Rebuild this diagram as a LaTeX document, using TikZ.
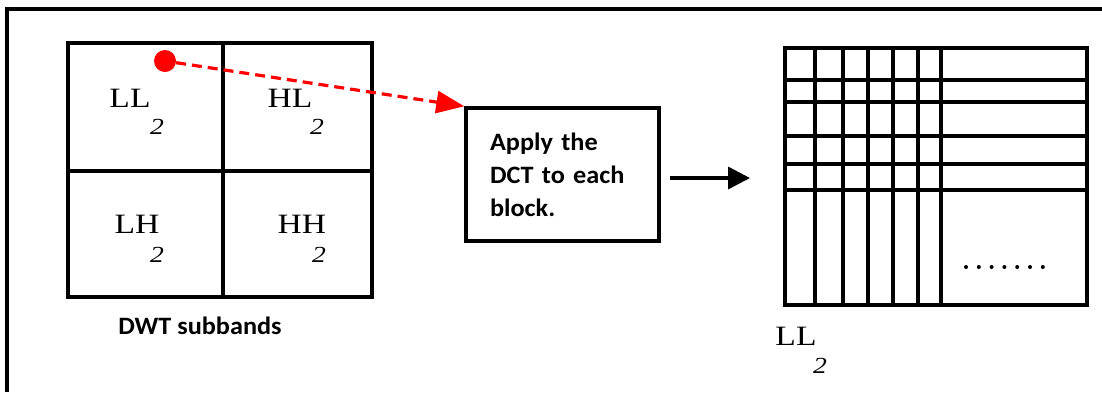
\documentclass[tikz,border=0pt]{standalone}
\usepackage{fontspec}
\newfontfamily\bandfont[FakeStretch=1.2]{Liberation Serif}
\newfontfamily\notefont[FakeStretch=1.05]{Carlito}
\usetikzlibrary{positioning,arrows.meta}
\definecolor{ink}{HTML}{000000}
\definecolor{pick}{HTML}{FF0000}

\tikzset{
  rule/.style={draw=ink,line width=3.4pt},
  cell/.style={rule,inner sep=0pt},
  band/.style={font=\bandfont\fontsize{28}{28}\selectfont,inner sep=0pt},
  sub/.style={font=\bandfont\itshape\fontsize{23}{23}\selectfont,inner sep=0pt},
  note/.style={font=\notefont\bfseries\fontsize{25}{33}\selectfont},
}

\begin{document}
\begin{tikzpicture}[x=1pt,y=-1pt]
\useasboundingbox (0,0) rectangle (1102,392);
\draw[line width=3.4pt] (1102,9) -- (7,9) -- (7,392);

% DWT subbands
\node[cell,minimum width=155pt,minimum height=128pt] (ll) at (145.5,107) {};
\node[cell,minimum width=149pt,minimum height=128pt] (hl) at (297.5,107) {};
\node[cell,minimum width=155pt,minimum height=126pt] (lh) at (145.5,234) {};
\node[cell,minimum width=149pt,minimum height=126pt] (hh) at (297.5,234) {};
\node[band] (ll-lab) at (130,98.5) {LL};
\node[sub] (ll-sub) at (157,127) {2};
\node[band] (hl-lab) at (290,98.5) {HL};
\node[sub] (hl-sub) at (317,127) {2};
\node[band] (lh-lab) at (137,224) {LH};
\node[sub] (lh-sub) at (157,255) {2};
\node[band] (hh-lab) at (302,224) {HH};
\node[sub] (hh-sub) at (319,255) {2};
\node[note] (bands) at (200,326) {DWT subbands};

\node[circle,fill=pick,minimum size=22pt,inner sep=0pt] (pick) at (165,61) {};

\node[rule,note,minimum width=193pt,minimum height=133pt,text width=145pt,inner xsep=24pt,align=left] (dct) at (562.5,174.5) {Apply the\\DCT to each\\block.};

\draw[pick,line width=3.2pt,dash pattern=on 10pt off 6pt,-{Triangle[length=28pt,width=22pt]}] (pick) -- (dct.north west);

% blocks of LL2
\node[rule,minimum width=302pt,minimum height=257pt,inner sep=0pt] (blocks) at (936,176.5) {};
\foreach \x in {815,843,868,893,918,941}
  \draw[rule] (\x,48) -- (\x,305);
\foreach \y in {80,102,136,164,190}
  \draw[rule] (785,\y) -- (1087,\y);
\foreach \i in {0,...,6}
  \fill (966+12.8*\i,267) circle (2);
\node[band] (out-lab) at (796,336) {LL};
\node[sub] (out-sub) at (820,366) {2};

\coordinate (into) at (750,178);
\draw[line width=3.4pt,-{Triangle[length=22pt,width=22pt]}] ([xshift=9pt]dct.east |- into) -- (into);
\end{tikzpicture}
\end{document}
